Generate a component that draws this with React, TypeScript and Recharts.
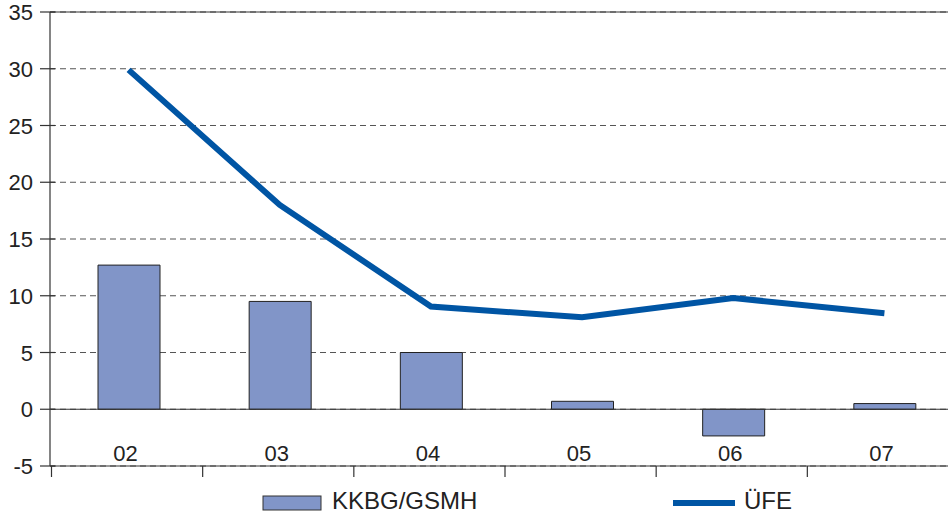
import { ComposedChart, Bar, Line, XAxis, YAxis, CartesianGrid, ReferenceLine, Legend } from 'recharts'

const years = ['02', '03', '04', '05', '06', '07']
const kkbg = [12.7, 9.5, 5.0, 0.7, -2.35, 0.5]
const ufe = [29.9, 18.0, 9.05, 8.1, 9.8, 8.45]
const yTicks = [-5, 0, 5, 10, 15, 20, 25, 30, 35]

const data = years.map((y, i) => ({ year: y, kkbg: kkbg[i], ufe: ufe[i] }))

const CHART_W = 960
const AXIS_W = 50
const PAD_L = 3
const BAND = (CHART_W - AXIS_W - PAD_L) / years.length
const FONT = 'Liberation Sans, Arial, Helvetica, sans-serif'
const INK = '#222'
const BAR_FILL = '#8195c8'
const LINE_COLOR = '#0055a4'

function XTick({ x, y, payload }: any) {
  const left = x - BAND / 2 - PAD_L / 2
  return (
    <g>
      <text x={x - 3} y={y - 5} textAnchor="middle" fontSize={22} fill={INK} fontFamily={FONT}>
        {payload.value}
      </text>
      <line x1={left} x2={left} y1={y} y2={y + 11} stroke="#333" strokeWidth={1.2} />
    </g>
  )
}

function YTick({ x, y, payload }: any) {
  return (
    <g>
      <line x1={x - 10} x2={x + 5} y1={y} y2={y} stroke="#333" strokeWidth={1.2} />
      <text x={x - 17} y={y} dy={8} textAnchor="end" fontSize={22} fill={INK} fontFamily={FONT}>
        {payload.value}
      </text>
    </g>
  )
}

// legend drawn as svg so the baseline can sit close to the bottom edge like the original
function LegendBox() {
  return (
    <svg width={948} height={30} style={{ display: 'block' }}>
      <rect x={263} y={11} width={58} height={14} fill={BAR_FILL} stroke="#333" strokeWidth={1} />
      <text x={332} y={24} fontSize={24} fill={INK} fontFamily={FONT}>KKBG/GSMH</text>
      <line x1={673} x2={735} y1={18} y2={18} stroke={LINE_COLOR} strokeWidth={6} />
      <text x={744} y={24} fontSize={24} fill={INK} fontFamily={FONT}>ÜFE</text>
    </svg>
  )
}

export default function App() {
  return (
    <div style={{ position: 'fixed', top: 0, left: 0, width: 948, height: 515, overflow: 'hidden', background: '#fff' }}>
      <ComposedChart width={CHART_W} height={515} data={data} margin={{ top: 12, right: 0, bottom: 0, left: 0 }}>
        <CartesianGrid vertical={false} stroke="#555" strokeDasharray="6 4" />
        <XAxis
          dataKey="year"
          height={49}
          padding={{ left: PAD_L, right: 0 }}
          tickSize={0}
          tickMargin={0}
          tickLine={false}
          axisLine={{ stroke: '#333', strokeWidth: 1.2 }}
          tick={<XTick />}
          interval={0}
        />
        <YAxis
          width={AXIS_W}
          domain={[-5, 35]}
          ticks={yTicks}
          tickSize={0}
          tickMargin={0}
          tickLine={false}
          axisLine={{ stroke: '#333', strokeWidth: 1.2 }}
          tick={<YTick />}
          interval={0}
        />
        <Bar dataKey="kkbg" name="KKBG/GSMH" fill={BAR_FILL} stroke="#222" strokeWidth={1} barSize={62} isAnimationActive={false} />
        <ReferenceLine y={35} stroke="#333" strokeWidth={1.2} />
        <ReferenceLine y={0} stroke="#333" strokeWidth={1.2} />
        <Line dataKey="ufe" name="ÜFE" stroke={LINE_COLOR} strokeWidth={6} dot={false} type="linear" isAnimationActive={false} />
        <Legend
          layout="horizontal"
          verticalAlign="middle"
          align="center"
          wrapperStyle={{ top: 485, left: 0, width: 948, height: 30 }}
          content={<LegendBox />}
        />
      </ComposedChart>
    </div>
  )
}
